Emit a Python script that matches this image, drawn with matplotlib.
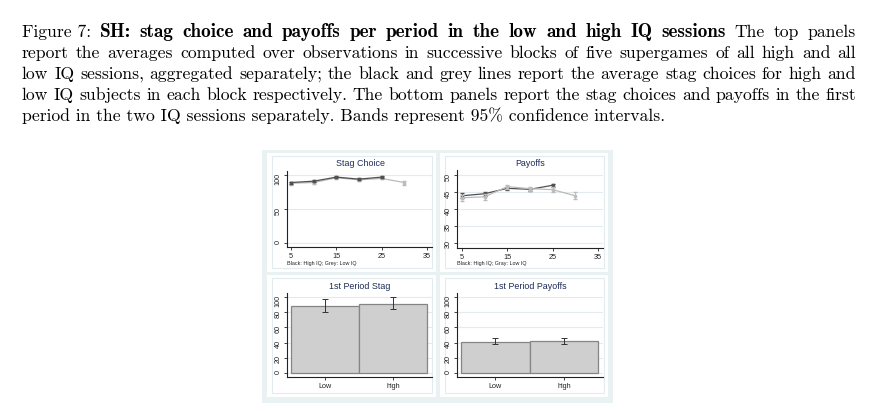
import matplotlib
matplotlib.use('Agg')
import matplotlib.pyplot as plt
from matplotlib.patches import Rectangle

W, H = 875, 411

# --- data ---
blocks = [5, 10, 15, 20, 25, 30]
stag_high = [89, 91, 97, 94, 97]
stag_high_ci = [1.5, 1.5, 1.0, 1.2, 1.0]
stag_low = [88, 89, 96, 93, 95, 89]
stag_low_ci = [2.0, 2.0, 1.5, 1.5, 1.5, 3.0]

pay_high = [43.9, 44.5, 46.1, 45.8, 47.0]
pay_high_ci = [0.8, 0.6, 0.5, 0.5, 0.5]
pay_low = [43.3, 43.6, 46.6, 46.0, 45.7, 43.9]
pay_low_ci = [0.8, 0.8, 0.6, 0.6, 0.8, 1.0]

groups = ['Low', 'high']
first_stag = [88, 91]
first_stag_lo = [80, 84]
first_stag_hi = [97, 100]
first_pay = [41, 41.5]
first_pay_lo = [38, 38.5]
first_pay_hi = [45.5, 46]

cap_bold = "SH: stag choice and payoffs per period in the low and high IQ sessions"
cap_lines = [
    [("Figure 7:", 'n')] + [(w, 'b') for w in cap_bold.split()]
    + [(w, 'n') for w in "The top panels".split()],
    [(w, 'n') for w in "report the averages computed over observations in successive blocks of five supergames of all high and all".split()],
    [(w, 'n') for w in "low IQ sessions, aggregated separately; the black and grey lines report the average stag choices for high and".split()],
    [(w, 'n') for w in "low IQ subjects in each block respectively.  The bottom panels report the stag choices and payoffs in the first".split()],
]
cap_last = "period in the two IQ sessions separately. Bands represent 95% confidence intervals."

SANS = ['Liberation Sans', 'DejaVu Sans']
BG = '#EAF1F3'
GRID = '#E3EBEE'
TITLE_C = '#1c2b57'


def frect(x0, y0, x1, y1):
    # pixel box (y from top) -> figure fractions
    return [x0 / W, 1 - y1 / H, (x1 - x0) / W, (y1 - y0) / H]


fig = plt.figure(figsize=(W / 100, H / 100), dpi=100)
fig.patch.set_facecolor('white')

# outer graph region
r = frect(262, 150, 613, 403)
fig.patches.append(Rectangle(r[:2], r[2], r[3], transform=fig.transFigure,
                             facecolor=BG, edgecolor='none', zorder=-3))

panels = [(267, 153, 436, 272), (440, 153, 608, 272), (267, 275, 436, 397), (440, 275, 608, 397)]
for (x0, y0, x1, y1) in panels:
    r = frect(x0, y0, x1, y1)
    fig.patches.append(Rectangle(r[:2], r[2], r[3], transform=fig.transFigure,
                                 facecolor='white', edgecolor='none', zorder=-2))
    r = frect(x0 + 5, y0 + 3, x1 - 4, y1 - 4)
    fig.patches.append(Rectangle(r[:2], r[2], r[3], transform=fig.transFigure,
                                 facecolor='none', edgecolor='#E2EBEE', linewidth=0.8, zorder=-1))


def style(ax, title, title_x, title_y):
    ax.set_facecolor('none')
    for s in ['top', 'right']:
        ax.spines[s].set_visible(False)
    for s in ['left', 'bottom']:
        ax.spines[s].set_color('#222222')
        ax.spines[s].set_linewidth(0.8)
    ax.tick_params(direction='out', length=2.5, width=0.6, pad=1.5, labelsize=5.2, colors='#222222')
    ax.tick_params(axis='y', labelrotation=90)
    for lab in ax.get_xticklabels() + ax.get_yticklabels():
        lab.set_fontfamily(SANS)
    ax.grid(axis='y', color=GRID, linewidth=0.8)
    ax.set_axisbelow(True)
    fig.text(title_x / W, 1 - title_y / H, title, ha='center', va='center',
             fontsize=6.4, color=TITLE_C, family=SANS)


# --- top-left: stag choice ---
ax1 = fig.add_axes(frect(287, 171, 432, 247))
ax1.errorbar(blocks, stag_low, yerr=stag_low_ci, color='#BBBBBB', lw=0.9, marker='s', ms=2,
             capsize=1.5, elinewidth=0.6, zorder=3)
ax1.errorbar(blocks[:5], stag_high, yerr=stag_high_ci, color='#505050', lw=0.9, marker='s', ms=2,
             capsize=1.5, elinewidth=0.6, zorder=4)
ax1.set_xlim(4.1, 36.1)
ax1.set_ylim(-6, 106)
ax1.set_xticks([5, 15, 25, 35])
ax1.set_yticks([0, 50, 100])
style(ax1, 'Stag Choice', 360, 164)
fig.text(287 / W, 1 - 263 / H, 'Black: High IQ; Grey: Low IQ', fontsize=3.9, family=SANS,
         va='center', color='#222222')

# --- top-right: payoffs ---
ax2 = fig.add_axes(frect(457, 170, 603, 248))
ax2.errorbar(blocks[:5], pay_high, yerr=pay_high_ci, color='#505050', lw=0.9, marker='s', ms=2,
             capsize=1.5, elinewidth=0.6, zorder=3)
ax2.errorbar(blocks, pay_low, yerr=pay_low_ci, color='#BBBBBB', lw=0.9, marker='s', ms=2,
             capsize=1.5, elinewidth=0.6, zorder=4)
ax2.set_xlim(3.9, 36.1)
ax2.set_ylim(28.5, 51.5)
ax2.set_xticks([5, 15, 25, 35])
ax2.set_yticks([30, 35, 40, 45, 50])
style(ax2, 'Payoffs', 530, 164)
fig.text(457 / W, 1 - 263 / H, 'Black: High IQ; Gray: Low IQ', fontsize=3.9, family=SANS,
         va='center', color='#222222')


def bars(ax, vals, lo, hi):
    x = list(range(len(groups)))
    ax.bar(x, vals, width=1.0, color='#CFCFCF', edgecolor='#858585', linewidth=0.9, zorder=2)
    err = [[v - l for v, l in zip(vals, lo)], [h - v for v, h in zip(vals, hi)]]
    ax.errorbar(x, vals, yerr=err, fmt='none', ecolor='#333333', elinewidth=0.7, capsize=2,
                capthick=0.7, zorder=3)
    ax.set_xticks(x)
    ax.set_xticklabels(groups)
    ax.set_xlim(-0.56, 1.57)
    ax.set_ylim(-5.3, 105.3)
    ax.set_yticks([0, 20, 40, 60, 80, 100])


# --- bottom-left: 1st period stag ---
ax3 = fig.add_axes(frect(287, 293, 432, 377))
bars(ax3, first_stag, first_stag_lo, first_stag_hi)
style(ax3, '1st Period Stag', 360, 286)

# --- bottom-right: 1st period payoffs ---
ax4 = fig.add_axes(frect(457, 293, 603, 377))
bars(ax4, first_pay, first_pay_lo, first_pay_hi)
style(ax4, '1st Period Payoffs', 530, 286)

# --- caption, justified like the LaTeX source ---
fig.canvas.draw()
rend = fig.canvas.get_renderer()
left, right = 22, 856
probe = fig.text(0, 0, cap_last, family='cmr10', fontsize=12)
fs = 12 * (665 - left) / probe.get_window_extent(rend).width
probe.remove()
# bold caption title is wider in the original (bold extended)
probe = fig.text(0, 0, cap_bold, family='cmb10', fontsize=fs)
fs_b = fs * 600 / probe.get_window_extent(rend).width
probe.remove()

base = 37
step = 21
for i, words in enumerate(cap_lines):
    y = 1 - (base + i * step) / H
    texts = []
    for w, kind in words:
        if kind == 'b':
            texts.append(fig.text(0, y, w, family='cmb10', fontsize=fs_b, va='baseline'))
        else:
            texts.append(fig.text(0, y, w, family='cmr10', fontsize=fs, va='baseline'))
    widths = [t.get_window_extent(rend).width for t in texts]
    gap = (right - left - sum(widths)) / (len(texts) - 1)
    x = left
    for t, wd in zip(texts, widths):
        t.set_x(x / W)
        x += wd + gap
fig.text(left / W, 1 - (base + 4 * step) / H, cap_last, family='cmr10', fontsize=fs,
         va='baseline', color='black')

fig.savefig('out.png', dpi=100)
